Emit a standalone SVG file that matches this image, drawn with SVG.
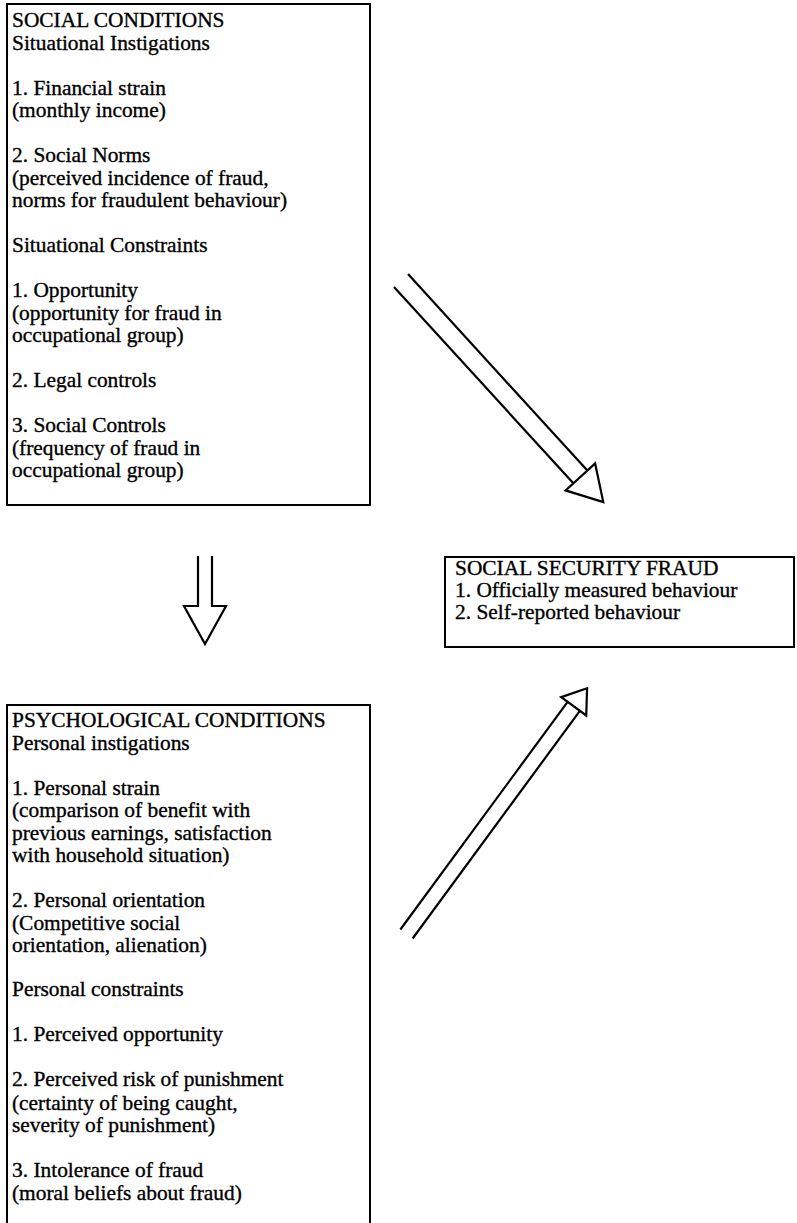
<svg xmlns="http://www.w3.org/2000/svg" width="797" height="1223" viewBox="0 0 797 1223">
<style>
.box{fill:#fff;stroke:#000;stroke-width:2}
.t{font-family:"Liberation Serif","Times New Roman",serif;font-size:21.4px;fill:#000;stroke:#000;stroke-width:0.35}
.ar{fill:none;stroke:#000;stroke-width:2.2;stroke-linejoin:miter}
.hd{fill:#fff;stroke:#000;stroke-width:2.2;stroke-linejoin:miter}
</style>
<rect width="797" height="1223" fill="#fff"/>
<g id="social-conditions">
<rect class="box" x="7" y="4" width="363" height="501"/>
<text class="t" x="12" y="27">SOCIAL CONDITIONS</text>
<text class="t" x="12" y="49.5">Situational Instigations</text>
<text class="t" x="12" y="94.5">1. Financial strain</text>
<text class="t" x="12" y="117">(monthly income)</text>
<text class="t" x="12" y="162">2. Social Norms</text>
<text class="t" x="12" y="184.5">(perceived incidence of fraud,</text>
<text class="t" x="12" y="207">norms for fraudulent behaviour)</text>
<text class="t" x="12" y="252">Situational Constraints</text>
<text class="t" x="12" y="297">1. Opportunity</text>
<text class="t" x="12" y="319.5">(opportunity for fraud in</text>
<text class="t" x="12" y="342">occupational group)</text>
<text class="t" x="12" y="387">2. Legal controls</text>
<text class="t" x="12" y="432">3. Social Controls</text>
<text class="t" x="12" y="454.5">(frequency of fraud in</text>
<text class="t" x="12" y="477">occupational group)</text>
</g>
<g id="social-security-fraud">
<rect class="box" x="445" y="557" width="349" height="90"/>
<text class="t" x="455" y="575">SOCIAL SECURITY FRAUD</text>
<text class="t" x="455" y="597">1. Officially measured behaviour</text>
<text class="t" x="455" y="619">2. Self-reported behaviour</text>
</g>
<g id="psychological-conditions">
<path class="box" d="M7,1223 V705 H370 V1223"/>
<text class="t" x="12" y="727">PSYCHOLOGICAL CONDITIONS</text>
<text class="t" x="12" y="749.5">Personal instigations</text>
<text class="t" x="12" y="794.5">1. Personal strain</text>
<text class="t" x="12" y="817">(comparison of benefit with</text>
<text class="t" x="12" y="839.5">previous earnings, satisfaction</text>
<text class="t" x="12" y="862">with household situation)</text>
<text class="t" x="12" y="907">2. Personal orientation</text>
<text class="t" x="12" y="929.5">(Competitive social</text>
<text class="t" x="12" y="952">orientation, alienation)</text>
<text class="t" x="12" y="996">Personal constraints</text>
<text class="t" x="12" y="1041">1. Perceived opportunity</text>
<text class="t" x="12" y="1086">2. Perceived risk of punishment</text>
<text class="t" x="12" y="1109.5">(certainty of being caught,</text>
<text class="t" x="12" y="1132">severity of punishment)</text>
<text class="t" x="12" y="1177">3. Intolerance of fraud</text>
<text class="t" x="12" y="1199.5">(moral beliefs about fraud)</text>
</g>
<g id="connectors">
<g id="arrow-social-to-psych">
<path class="ar" d="M198,556 V606 H184 L205,644 L226,606 H212 V556"/>
</g>
<g id="arrow-social-to-fraud" transform="translate(401,280.5) rotate(47.6)">
<path class="ar" d="M0,-9.5 H266 M0,9.5 H266"/>
<path class="hd" d="M266,-20 L300,0 L266,20 Z"/>
</g>
<g id="arrow-psych-to-fraud" transform="translate(406.5,934) rotate(-53.7)">
<path class="ar" d="M0,-7.6 H282.5 M0,7.6 H282.5"/>
<path class="hd" d="M282.5,-15.5 L305,0 L282.5,15.5 Z"/>
</g>
</g>
</svg>
